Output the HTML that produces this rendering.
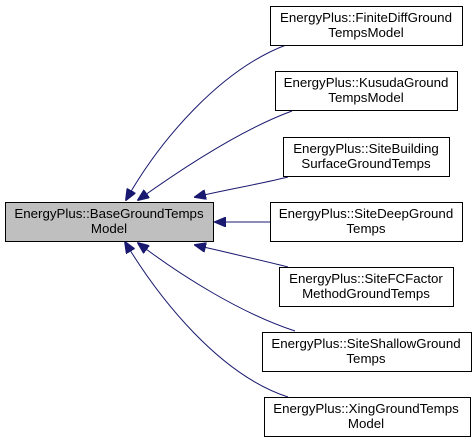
<!DOCTYPE html>
<html><head><meta charset="utf-8"><style>
body{margin:0;background:#fff}
svg{display:block}
text{font-family:"Liberation Sans",Arial,sans-serif;font-size:13.3px;fill:#000}
</style></head><body>
<svg width="476" height="444" viewBox="0 0 476 444">
<defs><marker id="a" markerWidth="12" markerHeight="10" refX="11" refY="5" orient="auto" markerUnits="userSpaceOnUse"><path d="M0,0 L12,5 L0,10 Z" fill="#191970" stroke="#191970"/></marker></defs>
<g fill="none" stroke="#191970" stroke-width="1" >
<path d="M286,45 C220,70 160,140 126,200" marker-end="url(#a)"/>
<path d="M292,111 C240,130 180,170 138,200" marker-end="url(#a)"/>
<path d="M288,177 C260,184 225,190 195,197" marker-end="url(#a)"/>
<path d="M270,222 L215,222" marker-end="url(#a)"/>
<path d="M288,267 C260,260 225,252 195,245" marker-end="url(#a)"/>
<path d="M295,331 C240,313 180,275 138,243" marker-end="url(#a)"/>
<path d="M288,397 C220,375 160,300 125,242" marker-end="url(#a)"/>
</g>
<g stroke="#000" stroke-width="1">
<rect x="5.5" y="202.5" width="208" height="39" fill="#bfbfbf"/>
<rect x="270.5" y="6.5" width="192" height="39" fill="#fff"/>
<rect x="275.5" y="71.5" width="182" height="39" fill="#fff"/>
<rect x="283.5" y="137.5" width="166" height="39" fill="#fff"/>
<rect x="270.5" y="202.5" width="192" height="39" fill="#fff"/>
<rect x="279.5" y="267.5" width="174" height="39" fill="#fff"/>
<rect x="262.5" y="332.5" width="209" height="39" fill="#fff"/>
<rect x="264.5" y="397.5" width="206" height="39" fill="#fff"/>
</g>
<g text-anchor="middle">
<text x="109" y="218">EnergyPlus::BaseGroundTemps</text><text x="109" y="233">Model</text>
<text x="366" y="22">EnergyPlus::FiniteDiffGround</text><text x="366" y="37">TempsModel</text>
<text x="366" y="87">EnergyPlus::KusudaGround</text><text x="366" y="102">TempsModel</text>
<text x="366" y="153">EnergyPlus::SiteBuilding</text><text x="366" y="168">SurfaceGroundTemps</text>
<text x="366" y="218">EnergyPlus::SiteDeepGround</text><text x="366" y="233">Temps</text>
<text x="366" y="283">EnergyPlus::SiteFCFactor</text><text x="366" y="298">MethodGroundTemps</text>
<text x="366" y="348">EnergyPlus::SiteShallowGround</text><text x="366" y="363">Temps</text>
<text x="366" y="413">EnergyPlus::XingGroundTemps</text><text x="366" y="428">Model</text>
</g>
</svg>
</body></html>
